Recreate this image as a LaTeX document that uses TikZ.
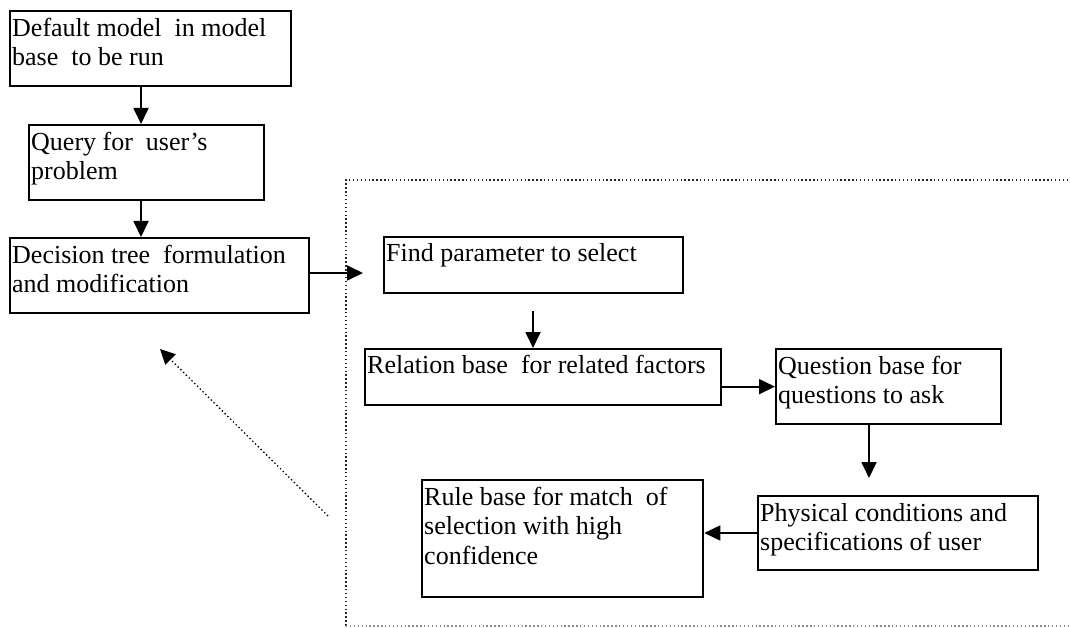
\documentclass[tikz,border=0pt]{standalone}
\usepackage{fontspec}
\setmainfont{Liberation Serif}
\usetikzlibrary{arrows.meta,calc}
\newcommand\tstrut{\rule{0pt}{24pt}}
\tikzset{
  box/.style={draw=black, line width=1.7pt, rectangle, inner sep=0pt, anchor=north west},
  thickbox/.style={box, line width=2.3pt},
  txt/.style={anchor=north west, inner sep=0pt, align=left, font=\fontsize{26}{29.5}\selectfont},
  arr/.style={line width=1.8pt, -{Triangle[length=16pt,width=15pt]}},
  dotline/.style={line width=1.4pt, dash pattern=on 1.4pt off 2.5pt},
}
\begin{document}
\begin{tikzpicture}[x=1pt,y=-1pt]
\useasboundingbox (0,0) rectangle (1070,628);
% dotted frame
\draw[dotline, black!85] (1068,180) -- (346,180) -- (346,626);
\draw[dotline, black!45] (346,626) -- (1068,626);
% boxes
\node[thickbox, minimum width=281pt, minimum height=75pt] (b1) at (9,10) {};
\node[txt] (t1) at ($(b1.north west)+(3,2)$) {\tstrut Default model\ \ in model\\base\ \ to be run};
\node[box, minimum width=235pt, minimum height=75pt] (b2) at (28,124) {};
\node[txt] (t2) at ($(b2.north west)+(3,2)$) {\tstrut Query for\ \ user’s\\problem};
\node[box, minimum width=299pt, minimum height=75pt] (b3) at (9,237) {};
\node[txt] (t3) at ($(b3.north west)+(3,2)$) {\tstrut Decision tree\ \ formulation\\and modification};
\node[box, minimum width=299pt, minimum height=56pt] (find) at (383,236) {};
\node[txt] (t4) at ($(find.north west)+(3,1)$) {\tstrut Find parameter to select};
\node[box, minimum width=356pt, minimum height=56pt] (rel) at (364,348) {};
\node[txt] (t5) at ($(rel.north west)+(3,1)$) {\tstrut Relation base\ \ for related factors};
\node[thickbox, minimum width=225pt, minimum height=75pt] (q) at (775,348) {};
\node[txt] (t6) at ($(q.north west)+(3,2)$) {\tstrut Question base for\\questions to ask};
\node[box, line width=2pt, minimum width=280pt, minimum height=74pt] (phys) at (757,495) {};
\node[txt] (t7) at ($(phys.north west)+(3,2)$) {\tstrut Physical conditions and\\specifications of user};
\node[thickbox, minimum width=281pt, minimum height=117pt] (rule) at (421,479) {};
\node[txt] (t8) at ($(rule.north west)+(3,2)$) {\tstrut Rule base for match\ \ of\\selection with high\\confidence};
% free ends
\coordinate (e3) at (363,273);
\coordinate (ef) at (533,311);
\coordinate (eq) at (869,478);
\coordinate (dtail) at (328,516);
\coordinate (dtip) at (160,349);
% connectors
\draw[arr] (141,0 |- b1.south) -- (141,0 |- b2.north);
\draw[arr] (141,0 |- b2.south) -- (141,0 |- b3.north);
\draw[arr] (b3.east |- e3) -- (e3);
\draw[arr] (ef) -- (ef |- rel.north);
\draw[arr] (rel.east |- q.west) -- (q.west);
\draw[arr] (869,0 |- q.south) -- (eq);
\draw[arr] (phys.west) -- (rule.east |- phys.west);
\draw[dotline, line width=1.3pt, -{Triangle[length=15pt,width=15pt,line width=0pt]}, black] (dtail) -- (dtip);
\end{tikzpicture}
\end{document}
